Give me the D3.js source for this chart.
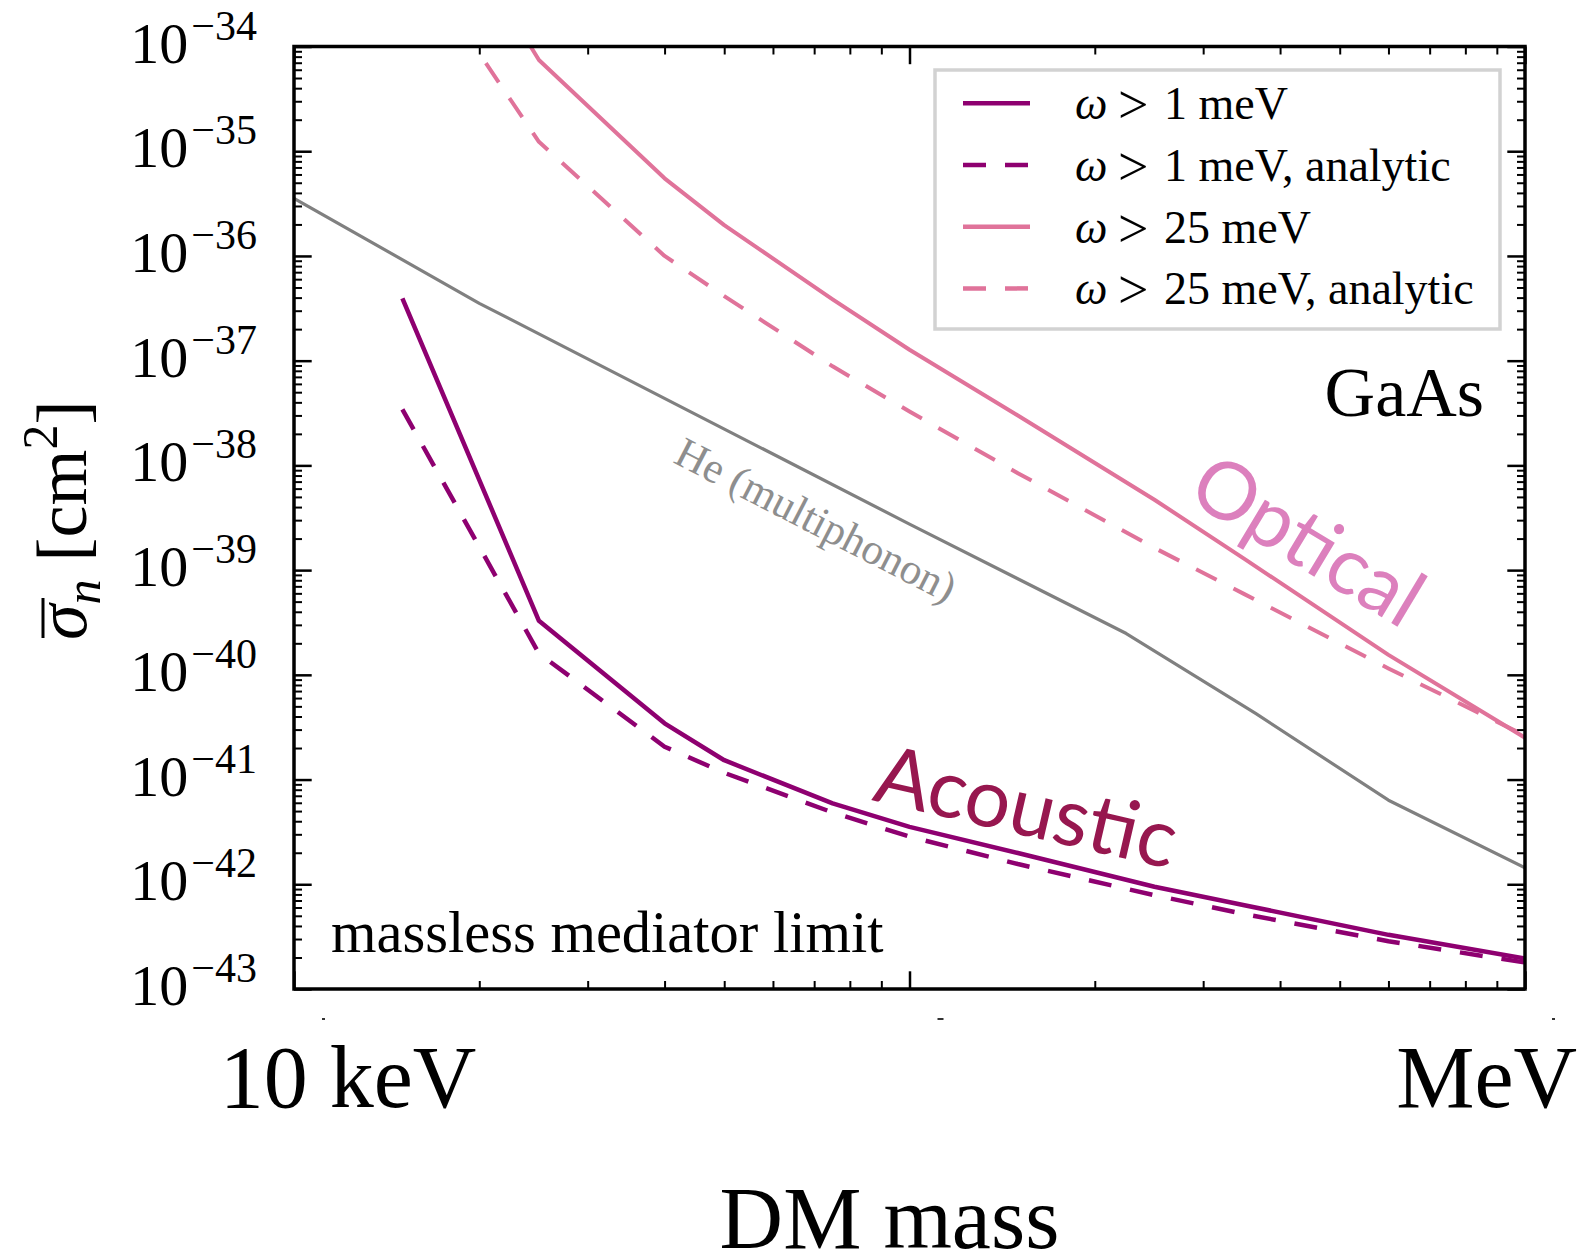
<!DOCTYPE html>
<html>
<head>
<meta charset="utf-8">
<script src="https://d3js.org/d3.v7.min.js"></script>
<style>
body{margin:0;background:#fff;}
svg{display:block;}
text{font-family:"Liberation Serif","Times New Roman",serif;fill:#000;}
.tick line{stroke:#000;}
.sans{font-family:Lato,"Open Sans",sans-serif;}
</style>
</head>
<body>
<div id="canvas" class="canvas" style="width:1585px;height:1258px;"></div>
<script>
// DM mass in keV, cross sections in cm^2
var massAcoustic = [15, 25, 40, 50, 75, 100, 150, 250, 350, 600, 1000];
var sigmaAcoustic = [3.94e-37, 3.28e-40, 3.44e-41, 1.53e-41, 5.92e-42, 3.53e-42, 1.99e-42, 9.46e-43, 6.31e-43, 3.29e-43, 1.95e-43];
var sigmaAcousticAn = [3.43e-38, 1.60e-40, 2.06e-41, 1.16e-41, 4.85e-42, 2.85e-42, 1.56e-42, 7.87e-43, 5.19e-43, 2.86e-43, 1.79e-43];

var massOptical = [20, 25, 40, 50, 75, 100, 150, 250, 350, 600, 1000];
var sigmaOptical = [6.3e-34, 7.43e-35, 5.51e-36, 1.97e-36, 3.85e-37, 1.27e-37, 2.99e-38, 4.70e-39, 1.28e-39, 1.55e-40, 2.51e-41];
var massOpticalAn = [20.5, 25, 40, 50, 75, 100, 150, 250, 350, 600, 1000];
var sigmaOpticalAn = [6.92e-35, 1.23e-35, 1.0e-36, 4.14e-37, 8.83e-38, 3.27e-38, 8.43e-39, 1.63e-39, 5.90e-40, 1.15e-40, 2.63e-41];

var massHe = [10, 20, 100, 225, 365, 600, 1000];
var sigmaHe = [3.55e-36, 3.53e-37, 2.75e-39, 2.48e-40, 4.28e-41, 6.35e-42, 1.44e-42];

var yExponents = [-34, -35, -36, -37, -38, -39, -40, -41, -42, -43];
var legendThresholds = ['1', '1', '25', '25'];
var legendSuffix = ['meV', 'meV, analytic', 'meV', 'meV, analytic'];

var purple = '#8e0070', pink = '#e0739a', grey = '#808080';

var m = {t:46.5, r:60, b:269, l:294},
    w = 1585 - m.l - m.r,
    h = 1258 - m.t - m.b;

var svg = d3.select('.canvas')
    .append('svg')
    .attr('width', w + m.l + m.r)
    .attr('height', h + m.t + m.b);

var plot = svg.append('g').attr('class','plot')
    .attr('transform','translate('+ m.l+','+ m.t+')');

var x = d3.scaleLog().domain([10, 1000]).range([0, w]);
var y = d3.scaleLog().domain([1e-43, 1e-34]).range([h, 0]);

plot.append('clipPath').attr('id','clip')
    .append('rect').attr('width', w).attr('height', h);

//Ticks (inward, on all four sides)
var xMajor = [10, 100, 1000],
    xMinor = d3.range(2,10).map(function(d){return d*10}).concat(d3.range(2,10).map(function(d){return d*100}));
var yMajor = yExponents.map(function(e){return Math.pow(10, e)}),
    yMinor = [];
yExponents.slice(1).forEach(function(e){
    d3.range(2,10).forEach(function(k){ yMinor.push(k*Math.pow(10, e)); });
});

function ticks(axis, vals, size, width){
    return function(g){
        g.call(axis.tickValues(vals).tickSize(size).tickFormat(''));
        g.select('.domain').remove();
        g.selectAll('.tick line').attr('stroke-width', width);
    };
}
plot.append('g').attr('transform','translate(0,'+h+')').call(ticks(d3.axisBottom(x), xMajor, -17.7, 2.5));
plot.append('g').attr('transform','translate(0,'+h+')').call(ticks(d3.axisBottom(x), xMinor, -8, 2));
plot.append('g').call(ticks(d3.axisTop(x), xMajor, -17.7, 2.5));
plot.append('g').call(ticks(d3.axisTop(x), xMinor, -8, 2));
plot.append('g').call(ticks(d3.axisLeft(y), yMajor, -17.7, 2.5));
plot.append('g').call(ticks(d3.axisLeft(y), yMinor, -8, 2));
plot.append('g').attr('transform','translate('+w+',0)').call(ticks(d3.axisRight(y), yMajor, -17.7, 2.5));
plot.append('g').attr('transform','translate('+w+',0)').call(ticks(d3.axisRight(y), yMinor, -8, 2));

//Curves
var line = d3.line()
    .x(function(d){return x(d[0])})
    .y(function(d){return y(d[1])});

var curves = [
    {mass: massHe, sigma: sigmaHe, color: grey, width: 3.2, dash: null},
    {mass: massOptical, sigma: sigmaOptical, color: pink, width: 4, dash: null},
    {mass: massOpticalAn, sigma: sigmaOpticalAn, color: pink, width: 4, dash: '23,19'},
    {mass: massAcoustic, sigma: sigmaAcoustic, color: purple, width: 4.5, dash: null},
    {mass: massAcoustic, sigma: sigmaAcousticAn, color: purple, width: 4.5, dash: '23,19'}
];

plot.append('g').attr('clip-path','url(#clip)')
    .selectAll('.curve')
    .data(curves)
    .enter()
    .append('path').attr('class','curve')
    .attr('d', function(d){ return line(d3.zip(d.mass, d.sigma)); })
    .style('fill','none')
    .style('stroke', function(d){return d.color})
    .style('stroke-width', function(d){return d.width})
    .style('stroke-dasharray', function(d){return d.dash})
    .style('stroke-linejoin','round');

//Frame
plot.append('rect')
    .attr('width', w).attr('height', h)
    .style('fill','none').style('stroke','#000').style('stroke-width',3.5);

//Y tick labels
var ylab = svg.selectAll('.ylab')
    .data(yExponents)
    .enter()
    .append('text').attr('class','ylab')
    .attr('x', 257)
    .attr('y', function(d){return m.t + y(Math.pow(10,d)) + 16})
    .attr('text-anchor','end')
    .style('font-size','58px');
ylab.append('tspan').text('10');
ylab.append('tspan')
    .attr('dy', -23).attr('dx', 3)
    .style('font-size','42px')
    .text(function(d){return '\u2212' + Math.abs(d)});

//X labels
svg.append('text')
    .attr('x', m.l + x(10) + 54).attr('y', 1107)
    .attr('text-anchor','middle')
    .style('font-size','88px')
    .text('10 keV');
svg.append('text')
    .attr('x', m.l + x(1000) + 52).attr('y', 1107)
    .attr('text-anchor','end')
    .style('font-size','88px')
    .text('MeV');
svg.append('text')
    .attr('x', m.l + x(100) - 20).attr('y', 1248)
    .attr('text-anchor','middle')
    .style('font-size','88px')
    .text('DM mass');
//leftover tick-label specks below the axis
[10, 100, 1000].forEach(function(v, i){
    svg.append('rect')
        .attr('x', m.l + x(v) + [28, 28, 27][i]).attr('y', 1018)
        .attr('width', i == 1 ? 6 : 3).attr('height', 2)
        .style('fill','#333');
});

//Y label
var yl = svg.append('g').attr('transform','translate(86,640) rotate(-90)');
var ylt = yl.append('text').style('font-size','72px');
ylt.append('tspan').style('font-style','italic').text('\u03c3');
ylt.append('tspan').attr('dy', 14).style('font-style','italic').style('font-size','50px').text('n');
ylt.append('tspan').attr('dy', -14).text(' [cm');
ylt.append('tspan').attr('dy', -29).style('font-size','50px').text('2');
ylt.append('tspan').attr('dy', 29).text(']');
yl.append('line')
    .attr('x1', 2).attr('x2', 42).attr('y1', -43).attr('y2', -43)
    .style('stroke','#000').style('stroke-width', 3);

//Legend
var lg = svg.append('g').attr('transform','translate(935,70)');
lg.append('rect')
    .attr('width', 565).attr('height', 259)
    .style('fill','#fff').style('stroke','#d2d2d2').style('stroke-width', 3.5);
var items = lg.selectAll('.item')
    .data(legendThresholds)
    .enter()
    .append('g').attr('class','item')
    .attr('transform', function(d,i){return 'translate(0,'+(33.3 + i*61.7)+')'});
items.append('line')
    .attr('x1', 28).attr('x2', 95)
    .style('stroke', function(d,i){return i < 2 ? purple : pink})
    .style('stroke-width', 4.5)
    .style('stroke-dasharray', function(d,i){return i % 2 ? '23,19' : null});
var itemText = items.append('text')
    .attr('y', 16)
    .style('font-size','46px');
itemText.append('tspan').attr('x', 140).style('font-style','italic').text('\u03c9');
itemText.append('tspan').attr('x', 183).attr('dy', 4).style('font-size','54px').text('>');
itemText.append('tspan').attr('x', 229).attr('dy', -4).text(function(d,i){return d + ' ' + legendSuffix[i]});

//Annotations
svg.append('text')
    .attr('x', 1484).attr('y', 416)
    .attr('text-anchor','end')
    .style('font-size','70px')
    .text('GaAs');
svg.append('text')
    .attr('x', 331).attr('y', 952)
    .style('font-size','58.5px')
    .text('massless mediator limit');
svg.append('text')
    .attr('transform','translate(672,462) rotate(27.2)')
    .style('font-size','43px').style('fill','#8e8e8e')
    .text('He (multiphonon)');
svg.append('text').attr('class','sans')
    .attr('transform','translate(1185,499) rotate(31)')
    .style('font-size','80px').style('fill','#dc80bd')
    .text('Optical');
svg.append('text').attr('class','sans')
    .attr('transform','translate(871,800) rotate(13)')
    .style('font-size','81px').style('fill','#97174f')
    .text('Acoustic');
</script>
</body>
</html>
